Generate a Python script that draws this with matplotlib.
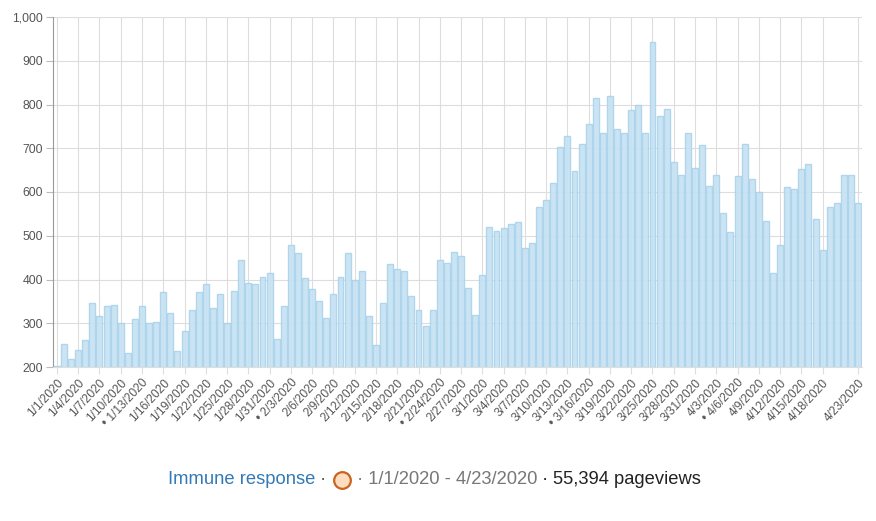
import matplotlib
matplotlib.use("Agg")
import matplotlib.pyplot as plt
from matplotlib.lines import Line2D
import numpy as np
import pandas as pd

# pageviews diários, 1/1/2020 a 4/23/2020
jan = [202, 253, 218, 240, 261, 346, 317, 339, 341, 300, 231, 309, 339, 300, 304, 371,
       323, 236, 282, 330, 371, 389, 336, 366, 300, 373, 444, 391, 389, 405, 414]
fev = [263, 339, 480, 460, 403, 378, 350, 311, 368, 405, 460, 400, 419, 316, 250, 346,
       435, 423, 419, 362, 330, 293, 330, 444, 437, 462, 453, 380, 320]
mar = [410, 519, 511, 517, 528, 531, 471, 483, 565, 581, 620, 704, 727, 647, 709, 755,
       814, 736, 819, 745, 734, 787, 800, 736, 942, 773, 789, 668, 638, 734, 656]
abr = [707, 613, 640, 551, 508, 636, 709, 629, 599, 533, 416, 480, 611, 608, 652, 663,
       538, 467, 565, 574, 640, 640, 574]
valores = jan + fev + mar + abr

datas = pd.date_range("2020-01-01", "2020-04-23", freq="D")
rotulos = [f"{d.month}/{d.day}/{d.year}" for d in datas]
marcados = ["1/13/2020", "2/3/2020", "2/24/2020", "3/16/2020", "4/6/2020"]  # rótulos com "•"
ticks_idx = list(range(0, 109, 3)) + [113]

artigo = "Immune response"
periodo = "1/1/2020 - 4/23/2020"
total = "55,394 pageviews"

plt.rcParams['font.family'] = ['Liberation Sans', 'DejaVu Sans']

fig = plt.figure(figsize=(8.76, 5.21), dpi=100)
ax = fig.add_axes([53 / 876, 1 - 367 / 521, (862 - 53) / 876, 350 / 521])

x = np.arange(len(valores))
ax.bar(x, valores, width=0.84, color='#c6e2f3', edgecolor='#a9d3ec', linewidth=1.0,
       zorder=2, alpha=0.9)

ax.set_ylim(200, 1000)
ax.set_xlim(-0.55, len(valores) - 0.45)
ax.set_yticks(range(200, 1001, 100))
ax.set_yticklabels([f"{v:,}" for v in range(200, 1001, 100)])

ax.set_xticks(ticks_idx)
ax.set_xticklabels([("• " + rotulos[i]) if rotulos[i] in marcados else rotulos[i] for i in ticks_idx],
                   rotation=47, ha='right', rotation_mode='anchor')

ax.grid(True, color='#dddddd', linewidth=0.8, zorder=0)
ax.set_axisbelow(True)
for s in ['top', 'right']:
    ax.spines[s].set_visible(False)
ax.spines['left'].set_color('#999999')
ax.spines['bottom'].set_color('#dddddd')
ax.tick_params(axis='y', labelsize=8.8, colors='#555555', length=5, width=0.8, pad=2)
ax.tick_params(axis='x', labelsize=8.6, colors='#555555', length=5, width=0.8, pad=2)
ax.tick_params(axis='x', color='#dddddd')
ax.tick_params(axis='y', color='#bbbbbb')

# legenda em linha no rodapé
fig.canvas.draw()
r = fig.canvas.get_renderer()
W, H = fig.bbox.width, fig.bbox.height
fs = 13.2
pecas = [(artigo, '#337ab7'), (" · ", '#555555'), (None, None),
         (" · " + periodo, '#777777'), (" · ", '#222222'), (total, '#222222')]
circ_w = 20
larguras = []
objs = []
for txt, cor in pecas:
    if txt is None:
        larguras.append(circ_w)
        objs.append(None)
        continue
    t = fig.text(0, 0, txt, fontsize=fs, color=cor, va='center', ha='left')
    larguras.append(t.get_window_extent(r).width)
    objs.append(t)
xp = 168
yp = 1 - 480 / 521
for (txt, cor), w, t in zip(pecas, larguras, objs):
    if t is None:
        fig.add_artist(Line2D([(xp + w / 2) / W], [yp], marker='o', markersize=12,
                              markerfacecolor='#fddcc0', markeredgecolor='#c8641e',
                              markeredgewidth=1.6, transform=fig.transFigure))
    else:
        t.set_position((xp / W, yp))
    xp += w

fig.savefig("out.png", dpi=100, facecolor='white')
